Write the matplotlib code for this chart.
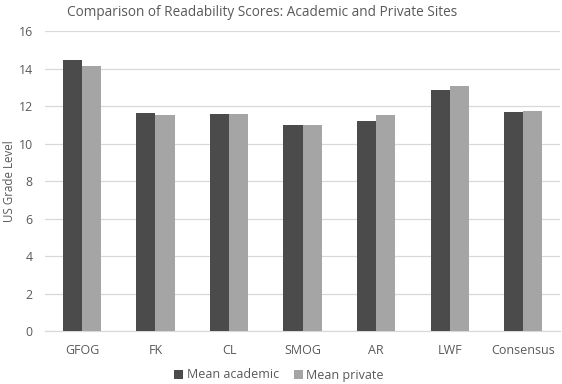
import numpy as np
import matplotlib.pyplot as plt

plt.rcParams['font.family'] = ['Open Sans', 'DejaVu Sans']

categories = ['GFOG', 'FK', 'CL', 'SMOG', 'AR', 'LWF', 'Consensus']
mean_academic = [14.5, 11.65, 11.62, 11.0, 11.22, 12.86, 11.68]
mean_private = [14.14, 11.56, 11.62, 11.0, 11.52, 13.1, 11.74]
yticks = [0, 2, 4, 6, 8, 10, 12, 14, 16]

text_color = '#595959'
grid_color = '#d9d9d9'

fig = plt.figure(figsize=(5.62, 3.84), dpi=100)
ax = fig.add_axes([0.0804, 0.1372, 0.916, 0.7808])

x = np.arange(len(categories))
w = 0.26
ax.bar(x - w / 2, mean_academic, w, color='#4b4b4b', label='Mean academic', zorder=3)
ax.bar(x + w / 2, mean_private, w, color='#a5a5a5', label='Mean private', zorder=3)

ax.set_xlim(-0.5, len(categories) - 0.5)
ax.set_ylim(0, 16)
ax.set_yticks(yticks)
ax.set_xticks(x)
ax.set_xticklabels(categories)
ax.grid(axis='y', color=grid_color, linewidth=0.9, zorder=0)
for s in ['top', 'right', 'left']:
    ax.spines[s].set_visible(False)
ax.spines['bottom'].set_color(grid_color)
ax.spines['bottom'].set_linewidth(0.9)
ax.tick_params(length=0, labelsize=9, colors=text_color)
ax.tick_params(axis='x', pad=9)
ax.tick_params(axis='y', pad=9, labelsize=8.8)

ax.set_ylabel('US Grade Level', fontsize=8.3, color=text_color)
ax.yaxis.set_label_coords(-0.0575, 0.5)

fig.text(262 / 562, 1 - 12 / 384, 'Comparison of Readability Scores: Academic and Private Sites',
         fontsize=9.8, color=text_color, ha='center', va='center')

fig.legend(loc='center', bbox_to_anchor=(279 / 562, 1 - 375 / 384), ncol=2, frameon=False,
           fontsize=9, handlelength=0.7, handleheight=0.7, handletextpad=0.3,
           columnspacing=1.2, labelcolor=text_color)

fig.savefig('out.png', dpi=100)
